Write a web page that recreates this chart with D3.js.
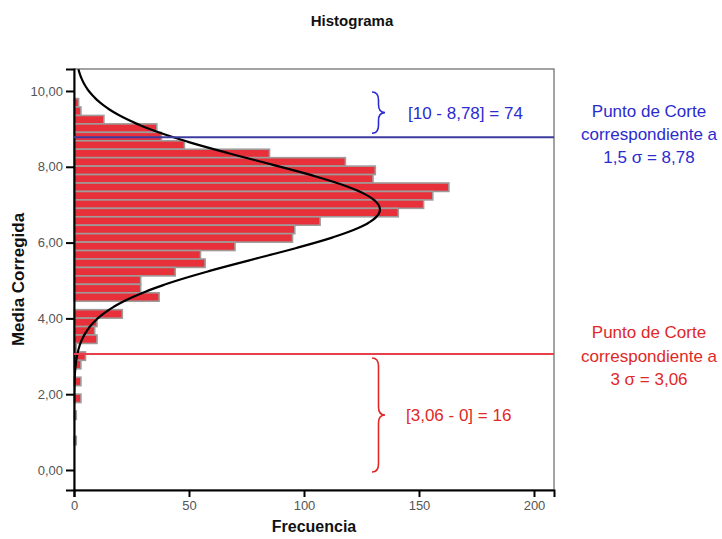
<!DOCTYPE html>
<html>
<head>
<meta charset="utf-8">
<script src="https://cdn.jsdelivr.net/npm/d3@7"></script>
<style>
  html, body { margin: 0; padding: 0; background: #fff; }
  svg { display: block; font-family: "Liberation Sans", Arial, sans-serif; }
</style>
</head>
<body>
<svg id="chart" width="722" height="539"></svg>
<script>
// ---- Data (bins listed from the top bin downward) ----
const binTop = 9.80;          // upper edge of highest bin
const binWidth = 0.2228;      // width of each bin
const binCounts = [2, 3, 13, 36, 38, 48, 85, 118, 131, 130, 163, 156, 152, 141, 107, 96, 95, 70, 55, 57, 44, 29, 29, 37, 0, 21, 10, 9, 10, 1, 5, 3, 0, 3, 0, 3, 0, 1, 0, 0, 1];
const yTicks = [0, 2, 4, 6, 8, 10];
const xTicks = [0, 50, 100, 150, 200];
const curveMean = 6.873;
const curveSd = 1.271;
const upperCut = 8.78;
const lowerCut = 3.06;
const upperLabel = "[10 - 8,78] = 74";
const lowerLabel = "[3,06 - 0] = 16";
const upperNote = ["Punto de Corte", "correspondiente a", "1,5 σ = 8,78"];
const lowerNote = ["Punto de Corte", "correspondiente a", "3 σ = 3,06"];

const svg = d3.select("#chart");
const pL = 74, pR = 554, pT = 69, pB = 490;

const x = d3.scaleLinear().domain([0, 208.7]).range([pL, pR]);
const y = d3.scaleLinear().domain([-0.528, 10.58]).range([pB, pT]);

const bins = binCounts.map((c, i) => ({
  hi: binTop - i * binWidth,
  lo: binTop - (i + 1) * binWidth,
  count: c
})).filter(d => d.count > 0);

// bars
svg.append("g").selectAll("rect").data(bins).join("rect")
  .attr("x", x(0))
  .attr("y", d => y(d.hi))
  .attr("width", d => x(d.count) - x(0))
  .attr("height", d => y(d.lo) - y(d.hi))
  .attr("fill", "#e8303a")
  .attr("stroke", "#a09a9a")
  .attr("stroke-width", 1.6);

// frame
svg.append("rect").attr("x", pL).attr("y", pT)
  .attr("width", pR - pL).attr("height", pB - pT)
  .attr("fill", "none").attr("stroke", "#666").attr("stroke-width", 1.2);

// normal curve
const N = d3.sum(binCounts);
const curvePts = d3.range(-0.528, 10.58, 0.02).map(v => {
  const z = (v - curveMean) / curveSd;
  return [v, N * binWidth * Math.exp(-0.5 * z * z) / (curveSd * Math.sqrt(2 * Math.PI))];
});
svg.append("defs").append("clipPath").attr("id", "clip")
  .append("rect").attr("x", pL).attr("y", pT).attr("width", pR - pL).attr("height", pB - pT);
svg.append("path")
  .datum(curvePts)
  .attr("clip-path", "url(#clip)")
  .attr("fill", "none").attr("stroke", "#000").attr("stroke-width", 2.2)
  .attr("d", d3.line().x(d => x(d[1])).y(d => y(d[0])).curve(d3.curveBasis));

// axes
const yAxis = svg.append("g").attr("transform", `translate(${pL},0)`)
  .call(d3.axisLeft(y).tickValues(yTicks).tickSize(8).tickPadding(3)
    .tickFormat(d => d3.format(".2f")(d).replace(".", ",")));
const xAxis = svg.append("g").attr("transform", `translate(0,${pB})`)
  .call(d3.axisBottom(x).tickValues(xTicks).tickSize(7).tickPadding(4));
[yAxis, xAxis].forEach(a => {
  a.select(".domain").attr("stroke", "#000").attr("stroke-width", 2);
  a.selectAll(".tick line").attr("stroke", "#000").attr("stroke-width", 2);
  a.selectAll(".tick text").attr("fill", "#555").attr("font-size", 13)
    .attr("font-family", "Liberation Sans, Arial, sans-serif");
});

// cut lines
svg.append("line").attr("x1", pL).attr("x2", pR)
  .attr("y1", y(upperCut)).attr("y2", y(upperCut))
  .attr("stroke", "#3c3ca0").attr("stroke-width", 2);
svg.append("line").attr("x1", pL).attr("x2", pR)
  .attr("y1", y(lowerCut)).attr("y2", y(lowerCut))
  .attr("stroke", "#e8404a").attr("stroke-width", 2);

// braces
function brace(x0, y0, y1, w) {
  const mid = (y0 + y1) / 2, h = w / 2, r = Math.min(8, (y1 - y0) / 4);
  return `M${x0},${y0} Q${x0 + h},${y0} ${x0 + h},${y0 + r} L${x0 + h},${mid - r}` +
    ` Q${x0 + h},${mid} ${x0 + w},${mid} Q${x0 + h},${mid} ${x0 + h},${mid + r}` +
    ` L${x0 + h},${y1 - r} Q${x0 + h},${y1} ${x0},${y1}`;
}
svg.append("path").attr("d", brace(372, y(10) + 1, y(upperCut) - 4, 13))
  .attr("fill", "none").attr("stroke", "#2b2bd0").attr("stroke-width", 1.6);
svg.append("path").attr("d", brace(372, y(lowerCut) + 4, y(0) + 2, 13))
  .attr("fill", "none").attr("stroke", "#e02828").attr("stroke-width", 1.6);

const ann = svg.append("g").attr("font-size", 17);
ann.append("text").attr("x", 408).attr("y", (y(10) + y(upperCut)) / 2 + 5)
  .attr("fill", "#2b2bd0").text(upperLabel);
ann.append("text").attr("x", 406).attr("y", (y(lowerCut) + y(0)) / 2 + 9)
  .attr("fill", "#e02828").text(lowerLabel);
upperNote.forEach((t, i) => ann.append("text").attr("x", 649).attr("y", 117 + i * 23)
  .attr("text-anchor", "middle").attr("fill", "#2b2bd0").text(t));
lowerNote.forEach((t, i) => ann.append("text").attr("x", 649).attr("y", 338 + i * 23.5)
  .attr("text-anchor", "middle").attr("fill", "#e02828").text(t));

// titles
svg.append("text").attr("x", 352).attr("y", 26).attr("text-anchor", "middle")
  .attr("font-size", 15).attr("font-weight", "bold").attr("fill", "#111").text("Histograma");
svg.append("text").attr("x", (pL + pR) / 2).attr("y", 532).attr("text-anchor", "middle")
  .attr("font-size", 16).attr("font-weight", "bold").attr("fill", "#111").text("Frecuencia");
svg.append("text").attr("transform", `translate(24,${(pT + pB) / 2}) rotate(-90)`)
  .attr("text-anchor", "middle")
  .attr("font-size", 17).attr("font-weight", "bold").attr("fill", "#111").text("Media Corregida");
</script>
</body>
</html>
